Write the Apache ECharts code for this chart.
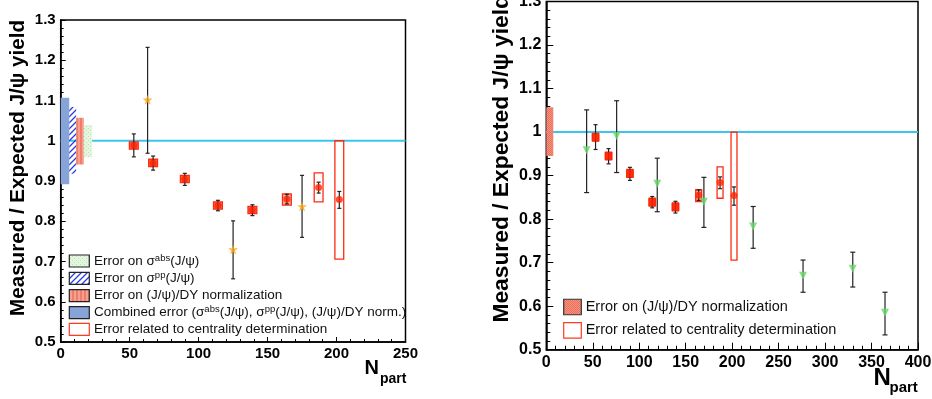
<!DOCTYPE html>
<html>
<head>
<meta charset="utf-8">
<script src="https://cdn.jsdelivr.net/npm/echarts@6/dist/echarts.min.js"></script>
<style>
html,body{margin:0;padding:0;background:#fff;}
#c{width:932px;height:399px;}
</style>
</head>
<body>
<div id="c"></div>
<script>
// ---------- DATA ----------
// Red points (In-In, shared by both panels)
const redN     = [53, 67, 90, 114, 139, 164, 187, 202];
const redY     = [0.988, 0.945, 0.905, 0.839, 0.828, 0.855, 0.884, 0.854];
const redErrLo = [0.960, 0.927, 0.889, 0.826, 0.814, 0.843, 0.870, 0.832];
const redErrHi = [1.017, 0.962, 0.919, 0.852, 0.841, 0.867, 0.897, 0.874];
const redBoxLo = [0.979, 0.936, 0.896, 0.830, 0.819, 0.840, 0.848, 0.706];
const redBoxHi = [0.997, 0.954, 0.914, 0.848, 0.837, 0.868, 0.920, 1.000];
const redBoxHalfN = [3.2, 3.2, 3.2, 3.2, 3.2, 3.2, 3.2, 3.2];

// Orange stars (left panel)
const starN     = [63, 125, 175];
const starY     = [1.102, 0.730, 0.837];
const starErrLo = [0.969, 0.657, 0.760];
const starErrHi = [1.232, 0.801, 0.914];

// Green triangles (right panel)
const triN     = [43.4, 75.7, 119.4, 169.6, 222.6, 276.3, 329.8, 364.5];
const triY     = [0.958, 0.991, 0.881, 0.840, 0.783, 0.670, 0.686, 0.585];
const triErrLo = [0.861, 0.907, 0.817, 0.781, 0.733, 0.632, 0.644, 0.534];
const triErrHi = [1.051, 1.072, 0.940, 0.896, 0.829, 0.706, 0.724, 0.632];

// Global error bands near N=0 (left: combined, sigma_pp, norm, sigma_abs)
const bandN0 = [0, 6.2, 11.2, 16.8];
const bandN1 = [6.2, 11.2, 16.8, 22.8];
const bandLo = [0.892, 0.918, 0.941, 0.959];
const bandHi = [1.107, 1.084, 1.057, 1.039];
// right panel normalization band
const rBandN0 = [0];
const rBandN1 = [7.5];
const rBandLo = [0.945];
const rBandHi = [1.057];

const refLevel = 1.0;
const leftXTicks = {min: 0, max: 250, interval: 50};
const rightXTicks = {min: 0, max: 400, interval: 50};
const yTicks = {min: 0.5, max: 1.3, interval: 0.1};

const leftLegend = [
  'Error on σ{s|abs}(J/ψ)',
  'Error on σ{s|pp}(J/ψ)',
  'Error on (J/ψ)/DY normalization',
  'Combined error (σ{s|abs}(J/ψ), σ{s|pp}(J/ψ), (J/ψ)/DY norm.)',
  'Error related to centrality determination'
];
const rightLegend = [
  'Error on (J/ψ)/DY normalization',
  'Error related to centrality determination'
];
const yTitle = 'Measured / Expected J/ψ yield';

// ---------- PATTERNS ----------
function mkPattern(w, h, draw) {
  const cv = document.createElement('canvas');
  cv.width = w; cv.height = h;
  const ctx = cv.getContext('2d');
  draw(ctx, w, h);
  return {image: cv, repeat: 'repeat'};
}
const hatchBlue = mkPattern(6, 6, (c, w, h) => {
  c.strokeStyle = '#2a3ee0'; c.lineWidth = 1.3;
  c.beginPath(); c.moveTo(0, h); c.lineTo(w, 0);
  c.moveTo(-w/2, h/2); c.lineTo(w/2, -h/2);
  c.moveTo(w/2, h*1.5); c.lineTo(w*1.5, h/2); c.stroke();
});
const dotGreen = mkPattern(4, 4, (c) => {
  c.fillStyle = '#e4f5e0'; c.fillRect(0, 0, 4, 4);
  c.fillStyle = '#b6e2b0'; c.fillRect(0, 0, 1, 1); c.fillRect(2, 2, 1, 1);
});
const streakRed = mkPattern(4, 4, (c) => {
  c.fillStyle = '#f6a090'; c.fillRect(0, 0, 4, 4);
  c.fillStyle = '#f07c6a'; c.fillRect(0, 0, 2, 4);
});
const checkRed = mkPattern(2, 2, (c) => {
  c.fillStyle = '#f49482'; c.fillRect(0, 0, 2, 2);
  c.fillStyle = '#ec6e5a'; c.fillRect(0, 0, 1, 1); c.fillRect(1, 1, 1, 1);
});

// ---------- HELPERS ----------
const FONT = '"Liberation Sans", Arial, Helvetica, sans-serif';
const starPath = 'path://M50,0 L61,35 L98,35 L68,57 L79,91 L50,70 L21,91 L32,57 L2,35 L39,35 Z';

function errorSeries(grid, xs, lo, hi, cap) {
  return {
    type: 'custom', xAxisIndex: grid, yAxisIndex: grid, silent: true, z: 4,
    data: xs.map((x, i) => [x, lo[i], hi[i]]),
    renderItem: (p, api) => {
      const a = api.coord([api.value(0), api.value(2)]);
      const b = api.coord([api.value(0), api.value(1)]);
      const st = {stroke: '#222', lineWidth: 1.2};
      return {type: 'group', children: [
        {type: 'line', shape: {x1: a[0], y1: a[1], x2: b[0], y2: b[1]}, style: st},
        {type: 'line', shape: {x1: a[0]-cap, y1: a[1], x2: a[0]+cap, y2: a[1]}, style: st},
        {type: 'line', shape: {x1: b[0]-cap, y1: b[1], x2: b[0]+cap, y2: b[1]}, style: st}
      ]};
    }
  };
}
function boxSeries(grid) {
  return {
    type: 'custom', xAxisIndex: grid, yAxisIndex: grid, silent: true, z: 3,
    data: redN.map((x, i) => [x, redBoxLo[i], redBoxHi[i], redBoxHalfN[i]]),
    renderItem: (p, api) => {
      const i = p.dataIndex;
      const a = api.coord([api.value(0) - api.value(3), api.value(2)]);
      const b = api.coord([api.value(0) + api.value(3), api.value(1)]);
      let fill = '#ff6a52';
      if (i === 5) fill = '#ffb0a4';
      if (i >= 6) fill = 'rgba(255,255,255,0)';
      return {type: 'rect', shape: {x: a[0], y: a[1], width: b[0]-a[0], height: b[1]-a[1]},
        style: {fill: fill, stroke: '#ff2a10', lineWidth: 1.3}};
    }
  };
}
function bandSeries(grid, n0, n1, lo, hi, fills) {
  return {
    type: 'custom', xAxisIndex: grid, yAxisIndex: grid, silent: true, z: 2,
    data: n0.map((x, i) => [x, n1[i], lo[i], hi[i]]),
    renderItem: (p, api) => {
      const a = api.coord([api.value(0), api.value(3)]);
      const b = api.coord([api.value(1), api.value(2)]);
      return {type: 'rect', shape: {x: a[0], y: a[1], width: b[0]-a[0], height: b[1]-a[1]},
        style: {fill: fills[p.dataIndex]}};
    }
  };
}
function refLine(grid, xmax) {
  return {type: 'line', xAxisIndex: grid, yAxisIndex: grid, silent: true, z: 1,
    data: [[0, refLevel], [xmax, refLevel]], symbol: 'none',
    lineStyle: {color: '#3cc4ee', width: 2}};
}
function xAxis(grid, t, fs, margin, major, minor) {
  return {type: 'value', gridIndex: grid, min: t.min, max: t.max, interval: t.interval,
    axisLine: {show: true, onZero: false, lineStyle: {color: '#000', width: 1.5}},
    axisTick: {show: true, inside: true, length: major, lineStyle: {color: '#000', width: 1}},
    minorTick: {show: true, splitNumber: 5, length: minor, lineStyle: {color: '#000', width: 1}},
    splitLine: {show: false}, minorSplitLine: {show: false},
    axisLabel: {color: '#000', fontFamily: FONT, fontWeight: 'bold', fontSize: fs, margin: margin}};
}
function yAxis(grid, fs, margin, major, minor) {
  return {type: 'value', gridIndex: grid, min: yTicks.min, max: yTicks.max, interval: yTicks.interval,
    axisLine: {show: true, onZero: false, lineStyle: {color: '#000', width: 1.5}},
    axisTick: {show: true, inside: true, length: major, lineStyle: {color: '#000', width: 1}},
    minorTick: {show: true, splitNumber: 5, length: minor, lineStyle: {color: '#000', width: 1}},
    splitLine: {show: false}, minorSplitLine: {show: false},
    axisLabel: {color: '#000', fontFamily: FONT, fontWeight: 'bold', fontSize: fs, margin: margin,
      formatter: v => String(Math.round(v * 10) / 10)}};
}

// ---------- LEGEND GRAPHICS ----------
const graphics = [];
const legL = {x: 69.3, w: 20, h: 12, yc: [261, 278.3, 295.7, 312.7, 329.3], tx: 94, fs: 13.5};
const legLFill = [dotGreen, hatchBlue, streakRed, '#87a4d8', '#fff'];
const legLStroke = ['#222', '#222', '#222', '#222', '#ff3a20'];
leftLegend.forEach((t, i) => {
  graphics.push({type: 'rect', shape: {x: legL.x, y: legL.yc[i] - legL.h/2, width: legL.w, height: legL.h},
    style: {fill: legLFill[i], stroke: legLStroke[i], lineWidth: 1.2}, z: 100});
  graphics.push({type: 'text', x: legL.tx, y: legL.yc[i], z: 100,
    style: {text: t, fill: '#111', font: legL.fs + 'px ' + FONT, verticalAlign: 'middle', textVerticalAlign: 'middle',
      rich: {s: {fontSize: 9.5, fontFamily: FONT, fill: '#111', verticalAlign: 'top', lineHeight: 16, padding: [0,0,6,0]}}}});
});
const legR = {x: 563.7, w: 17.6, h: 15.5, yc: [307, 330.3], tx: 585.7, fs: 14.5};
const legRFill = [checkRed, '#fff'];
const legRStroke = ['#333', '#ff3a20'];
rightLegend.forEach((t, i) => {
  graphics.push({type: 'rect', shape: {x: legR.x, y: legR.yc[i] - legR.h/2, width: legR.w, height: legR.h},
    style: {fill: legRFill[i], stroke: legRStroke[i], lineWidth: 1.2}, z: 100});
  graphics.push({type: 'text', x: legR.tx, y: legR.yc[i], z: 100,
    style: {text: t, fill: '#111', font: legR.fs + 'px ' + FONT, verticalAlign: 'middle', textVerticalAlign: 'middle'}});
});
// axis titles
graphics.push({type: 'text', x: 18.5, y: 20, rotation: Math.PI / 2, z: 100,
  style: {text: yTitle, fill: '#000', font: 'bold 20.6px ' + FONT, align: 'right', textAlign: 'right', verticalAlign: 'middle', textVerticalAlign: 'middle'}});
graphics.push({type: 'text', x: 502, y: -5, rotation: Math.PI / 2, z: 100,
  style: {text: yTitle, fill: '#000', font: 'bold 22.8px ' + FONT, align: 'right', textAlign: 'right', verticalAlign: 'middle', textVerticalAlign: 'middle'}});
graphics.push({type: 'text', x: 364.5, y: 368, z: 100,
  style: {text: 'N', fill: '#000', font: 'bold 20px ' + FONT, verticalAlign: 'middle', textVerticalAlign: 'middle'}});
graphics.push({type: 'text', x: 380, y: 379.5, z: 100,
  style: {text: 'part', fill: '#000', font: 'bold 14px ' + FONT, verticalAlign: 'middle', textVerticalAlign: 'middle'}});
graphics.push({type: 'text', x: 873.5, y: 378, z: 100,
  style: {text: 'N', fill: '#000', font: 'bold 24px ' + FONT, verticalAlign: 'middle', textVerticalAlign: 'middle'}});
graphics.push({type: 'text', x: 889.5, y: 388, z: 100,
  style: {text: 'part', fill: '#000', font: 'bold 15px ' + FONT, verticalAlign: 'middle', textVerticalAlign: 'middle'}});

// ---------- CHART ----------
const chart = echarts.init(document.getElementById('c'), null, {renderer: 'canvas'});
const option = {
  animation: false,
  backgroundColor: '#fff',
  grid: [
    {left: 60.7, top: 20, width: 344.8, height: 322, show: true, borderColor: '#000', borderWidth: 1.5, backgroundColor: 'transparent', outerBoundsMode: 'none', containLabel: false},
    {left: 546.3, top: 1.5, width: 371.7, height: 348.2, show: true, borderColor: '#000', borderWidth: 1.5, backgroundColor: 'transparent', outerBoundsMode: 'none', containLabel: false}
  ],
  xAxis: [xAxis(0, leftXTicks, 15, 4, 5, 3), xAxis(1, rightXTicks, 16, 5, 7, 4)],
  yAxis: [yAxis(0, 15, 5, 5, 3), yAxis(1, 16, 5, 7, 4)],
  graphic: graphics,
  series: [
    refLine(0, leftXTicks.max),
    bandSeries(0, bandN0, bandN1, bandLo, bandHi, ['#87a4d8', hatchBlue, streakRed, dotGreen]),
    boxSeries(0),
    errorSeries(0, redN, redErrLo, redErrHi, 2),
    errorSeries(0, starN, starErrLo, starErrHi, 2),
    {type: 'scatter', xAxisIndex: 0, yAxisIndex: 0, z: 5, silent: true, symbol: 'circle', symbolSize: 7,
      itemStyle: {color: '#ff2200'}, data: redN.map((x, i) => [x, redY[i]])},
    {type: 'scatter', xAxisIndex: 0, yAxisIndex: 0, z: 5, silent: true, symbol: starPath, symbolSize: 10,
      itemStyle: {color: '#ffa514'}, data: starN.map((x, i) => [x, starY[i]])},

    refLine(1, rightXTicks.max),
    bandSeries(1, rBandN0, rBandN1, rBandLo, rBandHi, [checkRed]),
    boxSeries(1),
    errorSeries(1, redN, redErrLo, redErrHi, 2),
    errorSeries(1, triN, triErrLo, triErrHi, 2.5),
    {type: 'scatter', xAxisIndex: 1, yAxisIndex: 1, z: 5, silent: true, symbolSize: 8,
      itemStyle: {color: '#ff2200'},
      data: redN.map((x, i) => ({value: [x, redY[i]], symbol: i < 5 ? 'rect' : 'circle', symbolSize: i < 5 ? 8 : 7}))},
    {type: 'scatter', xAxisIndex: 1, yAxisIndex: 1, z: 5, silent: true, symbol: 'triangle', symbolRotate: 180, symbolSize: 8,
      itemStyle: {color: '#66d866'}, data: triN.map((x, i) => [x, triY[i]])}
  ]
};
chart.setOption(option);
</script>
</body>
</html>
